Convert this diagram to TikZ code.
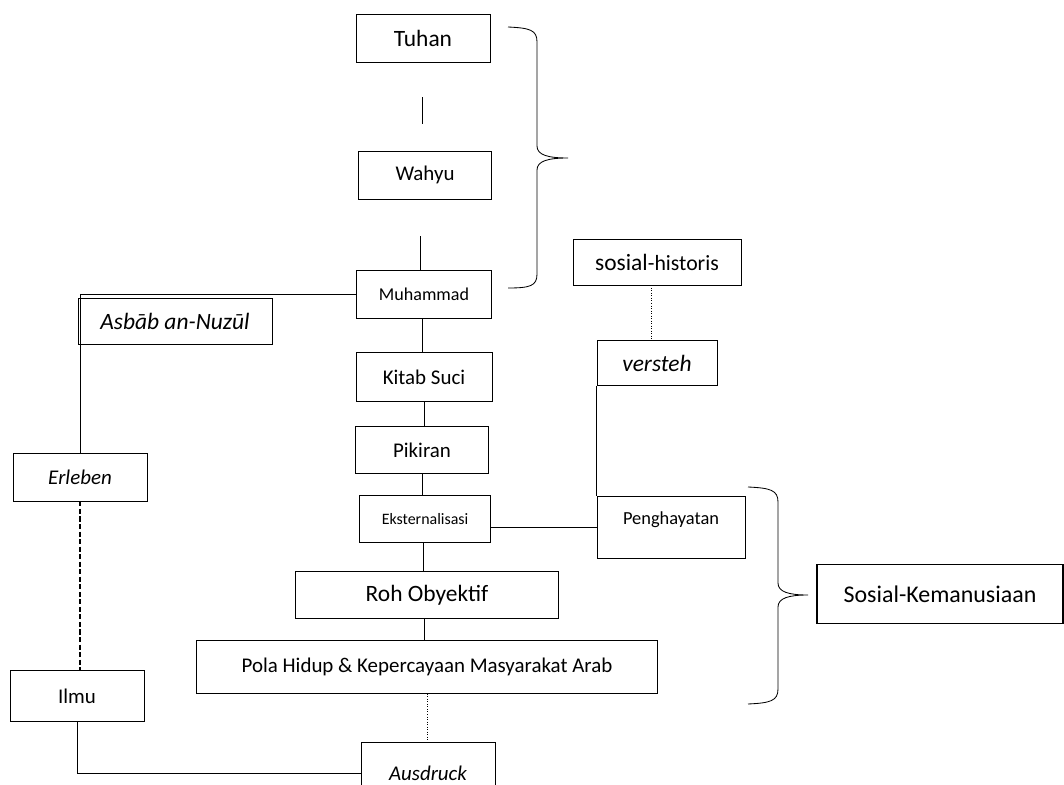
\documentclass[tikz,border=0pt]{standalone}
\usepackage{fontspec}
\setmainfont{Carlito}
\newlength{\unitpx}
\setlength{\unitpx}{0.021cm}
\begin{document}
\begin{tikzpicture}[x=0.021cm,y=-0.021cm,
  box/.style={draw,line width=0.5pt,inner sep=0pt,align=center},
  sz/.style 2 args={minimum width=#1*\unitpx,minimum height=#2*\unitpx},
  bigtxt/.style={font=\fontsize{14}{17}\selectfont},
  bigit/.style={font=\fontsize{14}{17}\selectfont\itshape},
  midtxt/.style={font=\fontsize{12.5}{15}\selectfont},
  midit/.style={font=\fontsize{12.5}{15}\selectfont\itshape},
  link/.style={line width=0.5pt},
  dotlink/.style={line width=0.5pt,densely dotted},
  dashlink/.style={line width=0.9pt,dash pattern=on 3pt off 1.5pt}]
\useasboundingbox (0,0) rectangle (1064,785);
\clip (0,0) rectangle (1064,785);
\node[box,bigtxt,sz={134}{48}] (tuhan) at (423,38) {Tuhan};
\node[box,midtxt,sz={133}{48}] (wahyu) at (425,175) {Wahyu};
\node[box,font=\fontsize{10.8}{13}\selectfont,sz={135}{48}] (muhammad) at (424,294) {Muhammad};
\node[box,bigit,sz={194}{46}] (asbab) at (175,321) {Asbāb an-Nuzūl};
\node[box,midtxt,sz={136}{49}] (kitab) at (424,377) {Kitab Suci};
\node[box,midtxt,sz={133}{47}] (pikiran) at (422,450) {Pikiran};
\node[box,font=\fontsize{9.5}{11}\selectfont,sz={131}{47}] (ekst) at (425,519) {Eksternalisasi};
\node[box,bigtxt,sz={263}{47}] (roh) at (427,595) {Roh Obyektif};
\node[box,midtxt,sz={461}{53}] (pola) at (427,667) {Pola Hidup \& Kepercayaan Masyarakat Arab};
\node[box,midit,sz={134}{62}] (ausdruck) at (428,773) {Ausdruck};
\node[box,midit,sz={134}{48}] (erleben) at (80,477) {Erleben};
\node[box,midtxt,sz={134}{51}] (ilmu) at (77,696) {Ilmu};
\node[box,font=\fontsize{13}{16}\selectfont,sz={168}{46}] (soshist) at (657,262) {{\fontsize{14}{17}\selectfont sosial}-historis};
\node[box,bigit,sz={120}{45}] (versteh) at (657,363) {versteh};
\node[box,font=\fontsize{11}{13}\selectfont,sz={148}{62},text depth=0.36cm] (penghayatan) at (671,527) {Penghayatan};
\node[box,line width=1pt,font=\fontsize{14.3}{17}\selectfont,sz={246}{59}] (soskem) at (940,594) {Sosial-Kemanusiaan};
\draw[link,shorten <=35*\unitpx,shorten >=27*\unitpx] ([xshift=-1*\unitpx]tuhan.south) -- ([xshift=-1*\unitpx]tuhan.south |- wahyu.north);
\draw[link,shorten <=37*\unitpx] ([xshift=-5*\unitpx]wahyu.south) -- ([xshift=-5*\unitpx]wahyu.south |- muhammad.north);
\draw[link] (muhammad.west) -| (erleben.north);
\draw[link] ([xshift=-2*\unitpx]muhammad.south) -- ([xshift=-2*\unitpx]muhammad.south |- kitab.north);
\draw[link] (kitab.south) -- (kitab.south |- pikiran.north);
\draw[link] (pikiran.south) -- (pikiran.south |- ekst.north);
\draw[link] ([xshift=-2*\unitpx]ekst.south) -- ([xshift=-2*\unitpx]ekst.south |- roh.north);
\draw[link] ([xshift=-3*\unitpx]roh.south) -- ([xshift=-3*\unitpx]roh.south |- pola.north);
\draw[dotlink] (pola.south) -- (pola.south |- ausdruck.north);
\draw[dashlink] (erleben.south) -- (erleben.south |- ilmu.north);
\draw[link] (ilmu.south) |- (ausdruck.west);
\draw[link] (penghayatan.west) -- (penghayatan.west -| ekst.east);
\draw[link] (versteh.south west) -- (penghayatan.north west);
\draw[dotlink] ([xshift=-6*\unitpx]soshist.south) -- ([xshift=-6*\unitpx]soshist.south |- versteh.north);
\draw[link] (508,27) .. controls (530,28) and (537,30) .. (537,42) -- (537,146) .. controls (537,155) and (548,158) .. (568,158) .. controls (548,158) and (537,161) .. (537,170) -- (537,274) .. controls (537,286) and (530,288) .. (508,288);
\draw[link] (748,487) .. controls (770,488) and (778,490) .. (778,502) -- (778,583) .. controls (778,592) and (789,595) .. (808,595) .. controls (789,595) and (778,598) .. (778,607) -- (778,689) .. controls (778,701) and (770,703) .. (748,704);
\end{tikzpicture}
\end{document}
